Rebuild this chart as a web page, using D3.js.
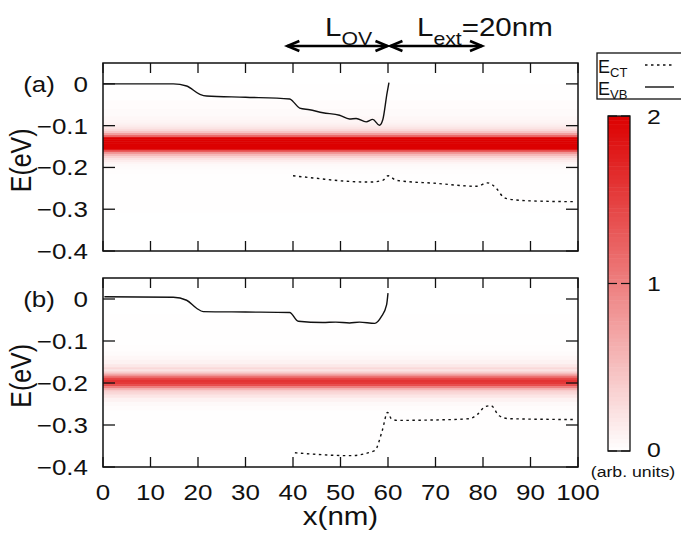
<!DOCTYPE html>
<html>
<head>
<meta charset="utf-8">
<script src="https://cdn.jsdelivr.net/npm/d3@7/dist/d3.min.js"></script>
<style>
  body { margin: 0; background: #fff; }
  text { font-family: "Liberation Sans", Arial, Helvetica, sans-serif; fill: #111; }
</style>
</head>
<body>
<svg id="chart" width="681" height="536"></svg>
<script>
// ---- data ----
const xTicks = [0, 10, 20, 30, 40, 50, 60, 70, 80, 90, 100];
const yTicks = [0, -0.1, -0.2, -0.3, -0.4];
const cbTicks = [0, 1, 2];

// panel (a): valence-band edge (solid) and conduction-band-tail (dotted)
const vbAx = [0, 14.8, 17.6, 20.4, 21.8, 30, 39.3, 40, 41.4, 43.5, 46.3, 49.8, 51.9, 53.3, 55.4, 56.8, 58.2, 58.9, 59.8, 60.2];
const vbAy = [0.0, 0.0, -0.005, -0.025, -0.029, -0.032, -0.036, -0.042, -0.058, -0.062, -0.069, -0.075, -0.084, -0.083, -0.091, -0.085, -0.099, -0.086, -0.022, 0.003];
const ctAx = [40, 45, 50, 56.1, 58.9, 60, 61.8, 70, 78.6, 81, 82.8, 84.2, 85.6, 90, 99.6];
const ctAy = [-0.22, -0.226, -0.232, -0.235, -0.231, -0.22, -0.231, -0.238, -0.245, -0.237, -0.25, -0.27, -0.276, -0.28, -0.282];

// panel (b)
const vbBx = [0.3, 14.8, 17.6, 19.7, 21.1, 30, 39.3, 41.1, 46.3, 49, 51.9, 54, 57.2, 58.6, 59.7, 60];
const vbBy = [0.0055, 0.004, -0.003, -0.022, -0.03, -0.031, -0.032, -0.053, -0.056, -0.055, -0.057, -0.055, -0.058, -0.042, -0.014, 0.014];
const ctBx = [40.4, 45, 51.9, 57.2, 58.8, 59.9, 60.7, 62, 70, 77.1, 78.8, 80.5, 81.7, 83.4, 85.5, 99.4];
const ctBy = [-0.366, -0.37, -0.373, -0.361, -0.313, -0.27, -0.285, -0.289, -0.288, -0.285, -0.275, -0.256, -0.254, -0.278, -0.285, -0.287];

// local density of states vs energy (uniform along x), arb. units
const ldosAe = [0.03, -0.03, -0.05, -0.07, -0.085, -0.09, -0.095, -0.1, -0.105, -0.11, -0.115, -0.12, -0.125, -0.13, -0.135, -0.14, -0.145, -0.15, -0.155, -0.16, -0.165, -0.17, -0.175, -0.18, -0.185, -0.19, -0.195, -0.2, -0.21, -0.22, -0.4];
const ldosAv = [0, 0.01, 0.02, 0.04, 0.06, 0.08, 0.1, 0.14, 0.2, 0.28, 0.45, 0.75, 1.2, 2.0, 2.2, 2.4, 2.4, 2.2, 2.0, 1.4, 0.85, 0.55, 0.35, 0.22, 0.14, 0.08, 0.05, 0.03, 0.015, 0.005, 0];
const ldosBe = [0.03, -0.1, -0.12, -0.13, -0.14, -0.15, -0.16, -0.165, -0.17, -0.175, -0.18, -0.185, -0.19, -0.195, -0.2, -0.205, -0.21, -0.215, -0.22, -0.225, -0.23, -0.24, -0.25, -0.26, -0.27, -0.4];
const ldosBv = [0, 0.005, 0.015, 0.03, 0.06, 0.1, 0.18, 0.3, 0.22, 0.4, 0.7, 1.1, 1.45, 1.6, 1.55, 1.4, 1.0, 0.6, 0.35, 0.3, 0.2, 0.1, 0.05, 0.02, 0.01, 0];

// ---- layout ----
const svg = d3.select("#chart");
const X0 = 103, X1 = 578;
const SX = 1.18; // horizontal widening of the lettering
const panels = [
  { tag: "(a)", top: 63, bottom: 251, vbx: vbAx, vby: vbAy, ctx: ctAx, cty: ctAy, le: ldosAe, lv: ldosAv },
  { tag: "(b)", top: 278, bottom: 467, vbx: vbBx, vby: vbBy, ctx: ctBx, cty: ctBy, le: ldosBe, lv: ldosBv }
];
const x = d3.scaleLinear().domain([0, 100]).range([X0, X1]);
const color = d3.scaleLinear().domain([0, 2]).range(["#ffffff", "#dc0000"]).clamp(true);
const TICK = 10;

function label(parent, px, py, str, size, anchor, dy) {
  return parent.append("text")
    .attr("transform", `translate(${px},${py}) scale(${SX},1)`)
    .attr("text-anchor", anchor || "start")
    .attr("dy", dy || 0)
    .attr("font-size", size)
    .text(str);
}

panels.forEach((p, pi) => {
  const y = d3.scaleLinear().domain([-0.4, 0.05]).range([p.bottom, p.top]);
  const g = svg.append("g");
  const clipId = "clip" + pi;
  svg.append("clipPath").attr("id", clipId)
    .append("rect").attr("x", X0).attr("y", p.top).attr("width", X1 - X0).attr("height", p.bottom - p.top);

  // density map: one row per sampled energy, spanning to neighbour midpoints
  const rows = p.le.map((e, i) => {
    const up = i === 0 ? 0.05 : (e + p.le[i - 1]) / 2;
    const dn = i === p.le.length - 1 ? -0.4 : (e + p.le[i + 1]) / 2;
    return { up, dn, v: p.lv[i] };
  });
  g.append("g").attr("clip-path", `url(#${clipId})`)
    .selectAll("rect").data(rows).join("rect")
    .attr("x", X0).attr("width", X1 - X0)
    .attr("y", d => y(d.up)).attr("height", d => Math.max(0, y(d.dn) - y(d.up)) + 0.5)
    .attr("fill", d => color(d.v));

  const line = d3.line().x(d => x(d[0])).y(d => y(d[1])).curve(d3.curveMonotoneX);
  g.append("path").datum(p.vbx.map((v, i) => [v, p.vby[i]]))
    .attr("d", line).attr("fill", "none").attr("stroke", "#111").attr("stroke-width", 1.4);
  g.append("path").datum(p.ctx.map((v, i) => [v, p.cty[i]]))
    .attr("d", line).attr("fill", "none").attr("stroke", "#111").attr("stroke-width", 1.4)
    .attr("stroke-dasharray", "2.5,3.5");

  // frame and mirrored inward ticks
  g.append("rect").attr("x", X0).attr("y", p.top).attr("width", X1 - X0).attr("height", p.bottom - p.top)
    .attr("fill", "none").attr("stroke", "#111").attr("stroke-width", 1.5);
  const tk = g.append("g").attr("stroke", "#111").attr("stroke-width", 1.3);
  xTicks.forEach(t => {
    tk.append("line").attr("x1", x(t)).attr("x2", x(t)).attr("y1", p.top).attr("y2", p.top + TICK);
    tk.append("line").attr("x1", x(t)).attr("x2", x(t)).attr("y1", p.bottom).attr("y2", p.bottom - TICK);
  });
  yTicks.forEach(t => {
    tk.append("line").attr("x1", X0).attr("x2", X0 + 12).attr("y1", y(t)).attr("y2", y(t));
    tk.append("line").attr("x1", X1).attr("x2", X1 - 12).attr("y1", y(t)).attr("y2", y(t));
  });
  yTicks.forEach(t => label(g, 88, y(t), t === 0 ? "0" : d3.format(".1f")(t), 22, "end", "0.36em"));
  label(g, 39, y(0), p.tag, 22, "middle", "0.36em");
  const cy = y(-0.183);
  g.append("text")
    .attr("transform", `translate(31,${cy}) scale(${SX},1) rotate(-90)`)
    .attr("text-anchor", "middle").attr("font-size", 25).text("E(eV)");
});

// x axis labels under the lower panel
xTicks.forEach(t => label(svg, x(t), 492, String(t), 22, "middle", "0.36em"));
label(svg, x(50), 525, "x(nm)", 25, "middle");

// region markers above the plots
const lovRange = [38.6, 60.1];
const lextRange = [60.3, 80];
const AY = 46;
const arrows = svg.append("g").attr("stroke", "#000").attr("stroke-width", 2.6).attr("fill", "none")
  .attr("stroke-linejoin", "miter");
function dblArrow(r) {
  const a = x(r[0]), b = x(r[1]);
  arrows.append("line").attr("x1", a + 1).attr("x2", b - 1).attr("y1", AY).attr("y2", AY);
  arrows.append("path").attr("d", `M${a + 13},${AY - 5} L${a + 1},${AY} L${a + 13},${AY + 5}`);
  arrows.append("path").attr("d", `M${b - 13},${AY - 5} L${b - 1},${AY} L${b - 13},${AY + 5}`);
}
dblArrow(lovRange);
dblArrow(lextRange);
const t1 = label(svg, 325, 36, "", 25);
t1.append("tspan").text("L");
t1.append("tspan").attr("font-size", 18).attr("dy", 9).text("OV");
const t2 = label(svg, 417, 36, "", 25);
t2.append("tspan").text("L");
t2.append("tspan").attr("font-size", 18).attr("dy", 9).text("ext");
t2.append("tspan").attr("dy", -9).text("=20nm");

// legend
const lg = svg.append("g");
lg.append("rect").attr("x", 597).attr("y", 53).attr("width", 100).attr("height", 46)
  .attr("fill", "#fff").attr("stroke", "#111").attr("stroke-width", 1.3);
const e1 = lg.append("text").attr("x", 598).attr("y", 73).attr("font-size", 18);
e1.append("tspan").text("E");
e1.append("tspan").attr("font-size", 13).attr("dy", 4).text("CT");
const e2 = lg.append("text").attr("x", 598).attr("y", 95).attr("font-size", 18);
e2.append("tspan").text("E");
e2.append("tspan").attr("font-size", 13).attr("dy", 4).text("VB");
lg.append("line").attr("x1", 645).attr("x2", 674).attr("y1", 65).attr("y2", 65)
  .attr("stroke", "#111").attr("stroke-width", 1.4).attr("stroke-dasharray", "2.5,3.5");
lg.append("line").attr("x1", 645).attr("x2", 674).attr("y1", 87).attr("y2", 87)
  .attr("stroke", "#111").attr("stroke-width", 1.4);

// colour bar
const CBX = 608, CBW = 22, CBT = 116, CBB = 451;
const cbScale = d3.scaleLinear().domain([0, 2]).range([CBB, CBT]);
const steps = d3.range(0, 2, 0.025);
svg.append("g").selectAll("rect").data(steps).join("rect")
  .attr("x", CBX).attr("width", CBW)
  .attr("y", d => cbScale(d + 0.025)).attr("height", d => cbScale(d) - cbScale(d + 0.025) + 0.5)
  .attr("fill", d => color(d + 0.0125));
svg.append("rect").attr("x", CBX).attr("y", CBT).attr("width", CBW).attr("height", CBB - CBT)
  .attr("fill", "none").attr("stroke", "#111").attr("stroke-width", 1.3);
cbTicks.forEach(t => {
  svg.append("line").attr("x1", CBX).attr("x2", CBX + 9).attr("y1", cbScale(t)).attr("y2", cbScale(t))
    .attr("stroke", "#111").attr("stroke-width", 1.2);
  svg.append("line").attr("x1", CBX + CBW).attr("x2", CBX + CBW - 9).attr("y1", cbScale(t)).attr("y2", cbScale(t))
    .attr("stroke", "#111").attr("stroke-width", 1.2);
  label(svg, 647, t === 0 ? cbScale(t) - 2 : cbScale(t), String(t), 21, "start", "0.36em");
});
label(svg, 633, 477, "(arb. units)", 15, "middle");
</script>
</body>
</html>
